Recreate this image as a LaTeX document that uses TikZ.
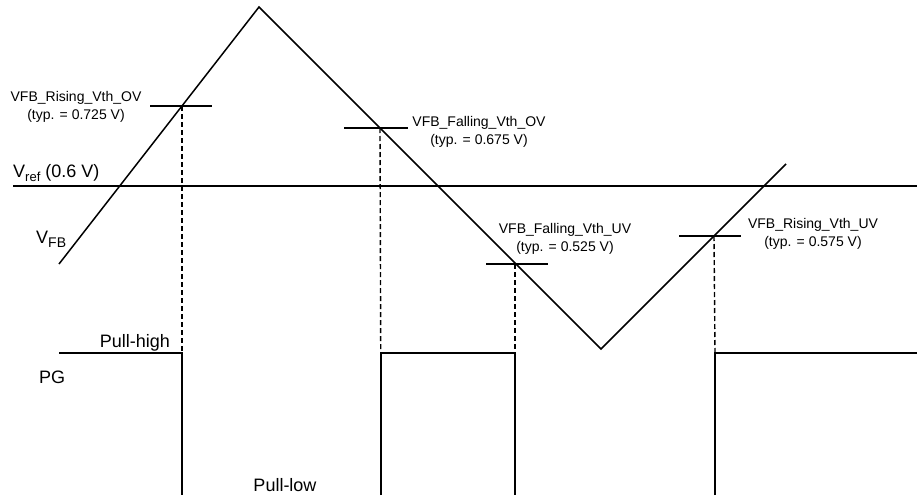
\documentclass[tikz,border=0pt]{standalone}
\usepackage{fontspec}
\setmainfont{Liberation Sans}
\begin{document}
\begin{tikzpicture}[x=1pt,y=-1pt,
  wave/.style={line width=1.5pt, line join=miter},
  tick/.style={line width=1.5pt},
  guide/.style={line width=1.4pt, dash pattern=on 5pt off 3pt},
  small/.style={inner sep=0pt, font=\fontsize{14}{18}\selectfont, align=center},
  big/.style={inner sep=0pt, font=\fontsize{18}{22}\selectfont}]
\useasboundingbox (0,0) rectangle (917,495);
% triangle V_FB points
\coordinate (s) at (59,264);
\coordinate (pk) at (259,7);
\coordinate (tr) at (601,349);
\coordinate (e) at (786,164);
% threshold points
\coordinate (t1) at (182,106);
\coordinate (t2) at (380,128);
\coordinate (t3) at (515,264);
\coordinate (t4) at (714,236);
% vref
\coordinate (r0) at (13,186);
\coordinate (r1) at (917,186);
% PG points
\coordinate (p0) at (59,353);
\coordinate (p1) at (182,353);
\coordinate (p2) at (182,495);
\coordinate (p3) at (381,495);
\coordinate (p4) at (381,353);
\coordinate (p5) at (515,353);
\coordinate (p6) at (515,495);
\coordinate (p7) at (715,495);
\coordinate (p8) at (715,353);
\coordinate (p9) at (917,353);
% dashed ends
\coordinate (d1) at (182,437);
\coordinate (d2) at (381,437);
\coordinate (d3) at (515,437);
\coordinate (d4) at (715,353);

\draw[tick] (r0) -- (r1);
\draw[wave] (s) -- (pk) -- (tr) -- (e);
\draw[tick] (150,106) -- (212,106);
\draw[tick] (344,128) -- (408,128);
\draw[tick] (486,264) -- (548,264);
\draw[tick] (679,236) -- (741,236);
\draw[guide] (t1) -- (d1);
\draw[guide] (t2) -- (d2);
\draw[guide] (t3) -- (d3);
\draw[guide] (t4) -- (d4);
\draw[wave] (p0) -- (p1) -- (p2);
\draw[wave] (p3) -- (p4) -- (p5) -- (p6);
\draw[wave] (p7) -- (p8) -- (p9);

\node[small, anchor=base] (l1) at (76,119) {VFB\_Rising\_Vth\_OV\\(typ. = 0.725 V)};
\node[small, anchor=base] (l2) at (479,144) {VFB\_Falling\_Vth\_OV\\(typ. = 0.675 V)};
\node[small, anchor=base] (l3) at (565,251) {VFB\_Falling\_Vth\_UV\\(typ. = 0.525 V)};
\node[small, anchor=base] (l4) at (813,246) {VFB\_Rising\_Vth\_UV\\(typ. = 0.575 V)};

\node[big, anchor=base west] (vref) at (13,177) {V\raisebox{-4pt}{\fontsize{13}{13}\selectfont ref} (0.6 V)};
\node[big, anchor=base west] (vfb) at (36,243) {V\raisebox{-4pt}{\fontsize{14}{14}\selectfont FB}};
\node[big, anchor=base west] (pg) at (39,383) {PG};
\node[big, anchor=base east] (ph) at (170,347) {Pull-high};
\node[big, anchor=base] (pl) at (285,491) {Pull-low};
\end{tikzpicture}
\end{document}
